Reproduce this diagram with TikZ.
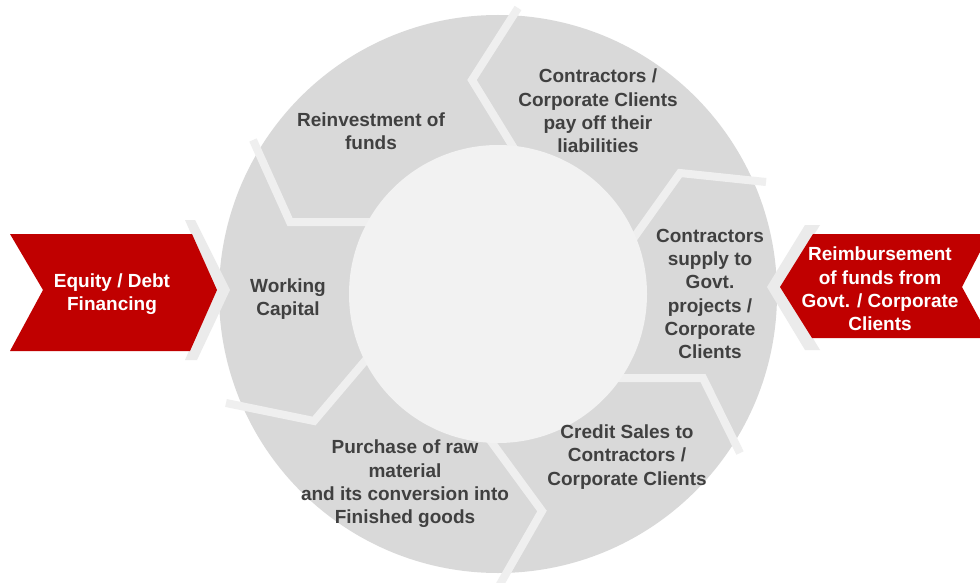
\documentclass[tikz,border=0pt]{standalone}
\usepackage{fontspec}
\setmainfont{Liberation Sans}
\definecolor{ringgray}{HTML}{D9D9D9}
\definecolor{innergray}{HTML}{F2F2F2}
\definecolor{sepgray}{HTML}{EFEFEF}
\definecolor{chevgray}{HTML}{EBEBEB}
\definecolor{redfill}{HTML}{C00000}
\definecolor{txtgray}{HTML}{404040}
\tikzset{
  sep/.style={draw=sepgray, line width=8pt, line join=miter, line cap=butt},
  chev/.style={fill=chevgray},
  redshape/.style={fill=redfill},
  ringtext/.style={text=txtgray, font=\bfseries\fontsize{19}{23.3}\selectfont, align=center, inner sep=0pt},
  redtext/.style={text=white, font=\bfseries\fontsize{19}{23.3}\selectfont, align=center, inner sep=0pt}
}
\begin{document}
\begin{tikzpicture}[x=1pt,y=-1pt]
\path[use as bounding box, fill=white] (0,0) rectangle (980,583);
\coordinate (C) at (498,294);
% outer ring
\fill[ringgray] (C) circle[radius=279pt];
% light chevrons behind the red arrows
\fill[chev] (185,220) -- (195,220) -- (230,290) -- (197,360) -- (185,360) -- (216,290) -- cycle;
\fill[chev] (805,225) -- (820,225) -- (782,287) -- (820,350) -- (805,350) -- (767,287) -- cycle;
% red arrows
\fill[redshape] (10,234) -- (192,234) -- (217,290) -- (190,351) -- (10,351) -- (43,290) -- cycle;
\fill[redshape] (813,234) -- (980,234) -- (980,252) -- (962,287) -- (980,320) -- (980,338) -- (812,338) -- (780,287) -- cycle;
% separators
\draw[sep] (515,150) -- (472,80) -- (518,8);
\draw[sep] (385,222) -- (290,222) -- (253,140);
\draw[sep] (628,246) -- (680,173) -- (766,182);
\draw[sep] (595,378) -- (703,378) -- (740,453);
\draw[sep] (490,440) -- (542,511) -- (499,586);
\draw[sep] (370,355) -- (314,421) -- (226,403);
% inner circle
\fill[innergray] (C) circle[radius=149pt];
% texts
\node[ringtext] (reinv) at (371,131) {Reinvestment of\\funds};
\node[ringtext] (payoff) at (598,111) {Contractors /\\Corporate Clients\\pay off their\\liabilities};
\node[ringtext] (wc) at (288,299) {Working\\Capital};
\node[ringtext] (supply) at (710,294) {Contractors\\supply to\\Govt.\\projects /\\Corporate\\Clients};
\node[ringtext] (credit) at (627,457) {Credit Sales to\\Contractors /\\Corporate Clients};
\node[ringtext] (purchase) at (405,484) {Purchase of raw\\material\\and its conversion into\\Finished goods};
\node[redtext] (equity) at (112,294) {Equity / Debt\\Financing};
\node[redtext] (reimb) at (880,289) {Reimbursement\\of funds from\\Govt. / Corporate\\Clients};
\end{tikzpicture}
\end{document}
